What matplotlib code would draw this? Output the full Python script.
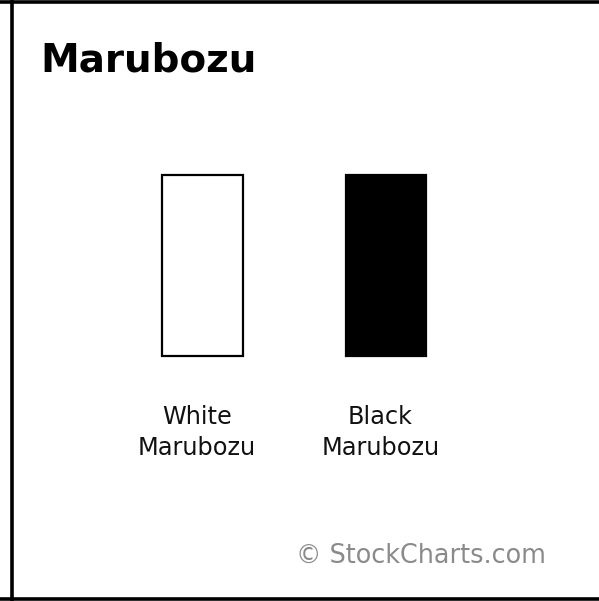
import matplotlib
matplotlib.use("Agg")
import matplotlib.pyplot as plt
import matplotlib.transforms as mtransforms
from matplotlib.lines import Line2D

plt.rcParams["font.family"] = ["DejaVu Sans"]

# candle data (open / close on an arbitrary price scale)
names = ["White\nMarubozu", "Black\nMarubozu"]
opens = [10, 20]
closes = [20, 10]
title = "Marubozu"
credit = "\u00a9 StockCharts.com"

W, H = 599, 601
fig = plt.figure(figsize=(W / 100, H / 100), dpi=100)
fig.patch.set_facecolor("white")

ax = fig.add_axes([0, 0, 1, 1])
ax.axis("off")

# ---------- candles ----------
x = list(range(len(names)))
bottoms = [min(o, c) for o, c in zip(opens, closes)]
heights = [abs(c - o) for o, c in zip(opens, closes)]
faces = ["white" if c > o else "black" for o, c in zip(opens, closes)]
ax.bar(x, heights, width=0.44, bottom=bottoms, color=faces,
       edgecolor="black", linewidth=1.6)

# map scale so the candles land where the reference has them
ax.set_xlim(-1.105, 2.163)
ax.set_ylim(-3.48, 29.63)

# ---------- labels under each candle ----------
trans = mtransforms.blended_transform_factory(ax.transData, ax.transAxes)
for xi, name in zip(x, names):
    ax.text(xi - 0.03, 1 - 405 / H, name, transform=trans, ha="center",
            va="top", fontsize=17.3, color="#111111", linespacing=1.38)

# ---------- title and credit ----------
fig.text(40 / W, 1 - 71 / H, title, fontsize=28, fontweight="bold",
         va="baseline", ha="left", color="black")
fig.text(296 / W, 1 - 563 / H, credit, fontsize=18.4, va="baseline",
         ha="left", color="#8a8a8a")

# ---------- frame (left, top, bottom) ----------
lw = 2.6
for xs, ys in [([11.5 / W, 11.5 / W], [0, 1]),
               ([0, 1], [1 - 2 / H, 1 - 2 / H]),
               ([0, 1], [2 / H, 2 / H])]:
    fig.add_artist(Line2D(xs, ys, transform=fig.transFigure,
                          color="black", linewidth=lw))

fig.savefig("out.png", dpi=100, facecolor="white")
